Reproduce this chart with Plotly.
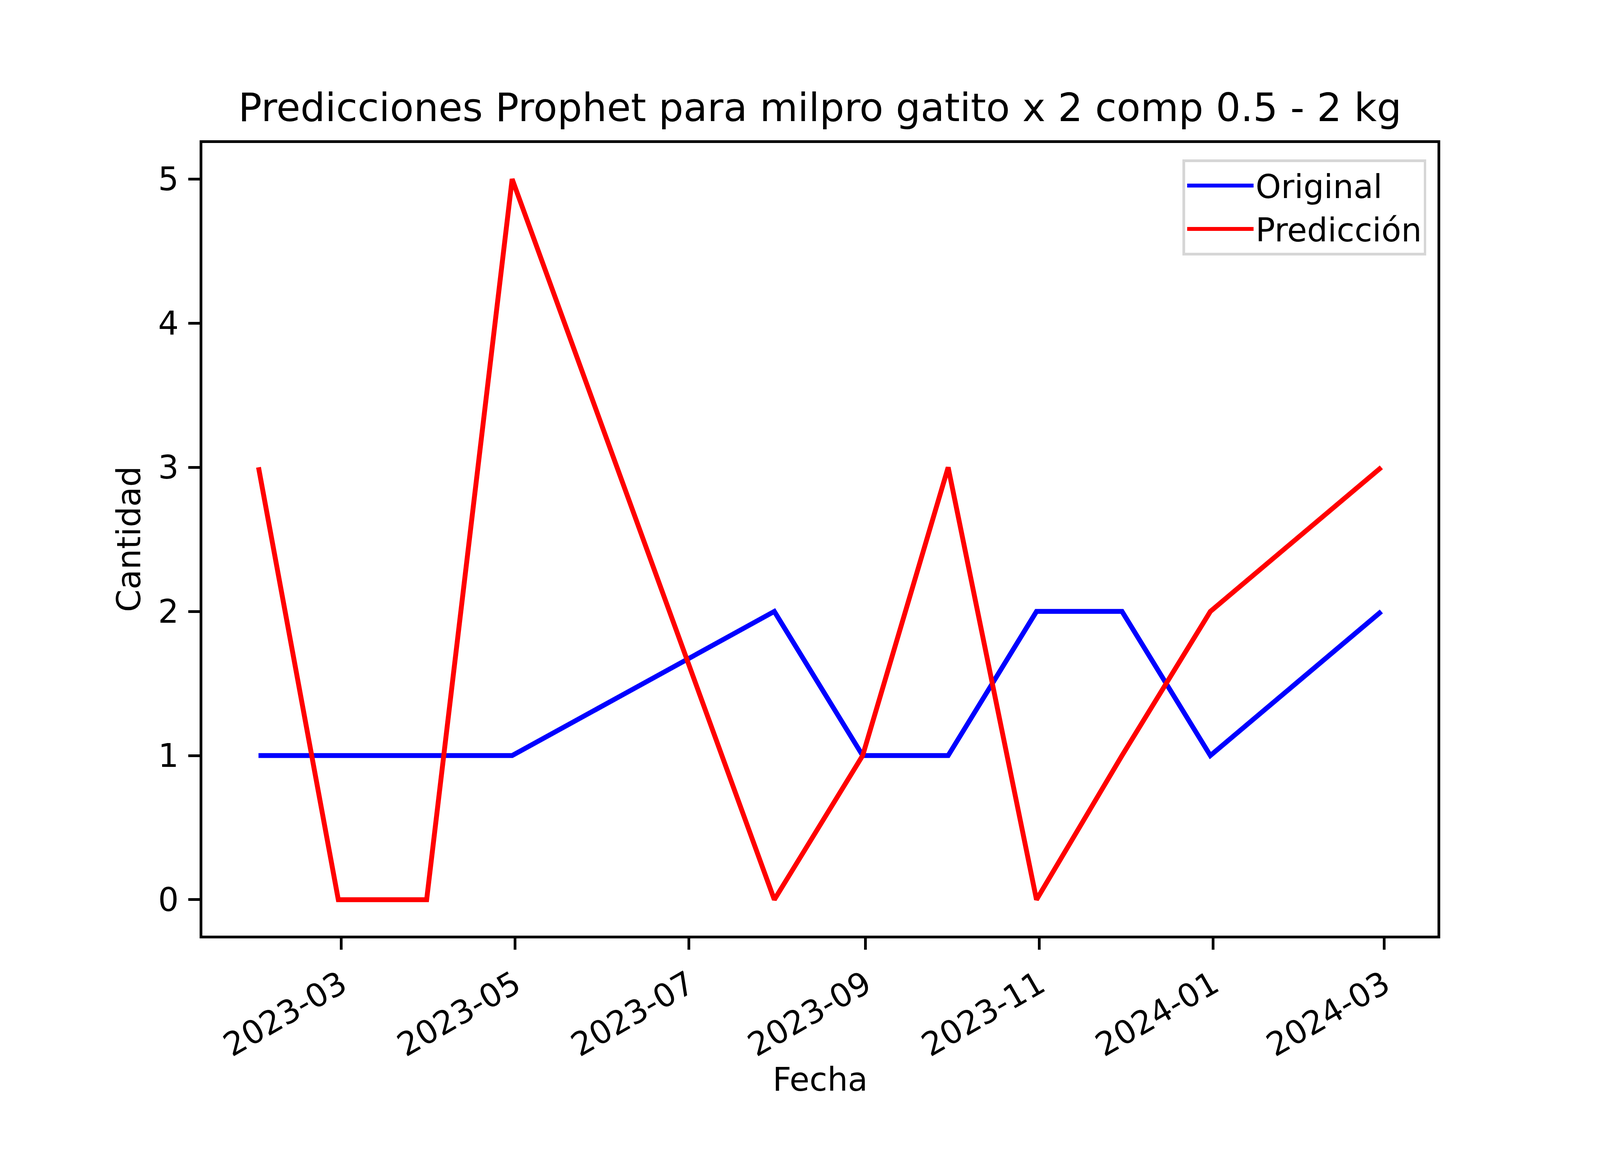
import plotly.graph_objects as go

fechas = ["2023-01-31", "2023-02-28", "2023-03-31", "2023-04-30", "2023-07-31",
          "2023-08-31", "2023-09-30", "2023-10-31", "2023-11-30", "2023-12-31",
          "2024-02-29"]
original = [1, 1, 1, 1, 2, 1, 1, 2, 2, 1, 2]
prediccion = [3, 0, 0, 5, 0, 1, 3, 0, 1, 2, 3]
x_ticks = ["2023-03-01", "2023-05-01", "2023-07-01", "2023-09-01",
           "2023-11-01", "2024-01-01", "2024-03-01"]
x_tick_labels = ["2023-03", "2023-05", "2023-07", "2023-09",
                 "2023-11", "2024-01", "2024-03"]
y_ticks = [0, 1, 2, 3, 4, 5]

FONT = "DejaVu Sans"
TICK = 83
LW = 12.5
AXW = 6.7

fig = go.Figure()
fig.add_trace(go.Scatter(x=fechas, y=original, mode="lines", name="Original",
                         line=dict(color="#0000ff", width=LW)))
fig.add_trace(go.Scatter(x=fechas, y=prediccion, mode="lines", name="Predicción",
                         line=dict(color="#ff0000", width=LW)))

axis_common = dict(showline=True, linecolor="black", linewidth=AXW, mirror=True,
                   ticks="outside", ticklen=29, tickwidth=AXW, tickcolor="black",
                   showgrid=False, zeroline=False, automargin=False,
                   tickfont=dict(family=FONT, size=TICK, color="black"))

fig.update_layout(
    autosize=True,
    margin=dict(l=0, r=0, t=0, b=0),
    paper_bgcolor="white", plot_bgcolor="white",
    font=dict(family=FONT, size=TICK, color="black"),
    title=dict(text="Predicciones Prophet para milpro gatito x 2 comp 0.5 - 2 kg",
               x=0.5125, xref="container", xanchor="center",
               y=1 - 268 / 3000, yref="container", yanchor="middle",
               font=dict(family=FONT, size=100, color="black")),
    xaxis=dict(axis_common, type="date", domain=[0.125, 0.9],
               range=["2023-01-11 07:00", "2024-03-19 17:00"],
               tickvals=x_ticks, ticktext=x_tick_labels, tickangle=-30,
               ticklabelstandoff=8),
    yaxis=dict(axis_common, domain=[0.2, 0.88], range=[-0.25, 5.25],
               tickvals=y_ticks, ticktext=[str(v) for v in y_ticks],
               ticklabelstandoff=8),
    showlegend=True,
    legend=dict(x=0.893, y=0.866, xanchor="right", yanchor="top",
                bgcolor="rgba(255,255,255,0.8)", bordercolor="#d6d6d6",
                borderwidth=6.7, font=dict(family=FONT, size=TICK, color="black"),
                itemwidth=170, tracegroupgap=0),
    annotations=[
        dict(text="Fecha", xref="paper", yref="paper", x=0.5125, y=1 - 2770 / 3000,
             xanchor="center", yanchor="middle", showarrow=False,
             font=dict(family=FONT, size=TICK, color="black")),
        dict(text="Cantidad", xref="paper", yref="paper", x=0.125, xshift=-187,
             y=0.54, xanchor="center", yanchor="middle", showarrow=False,
             textangle=-90, font=dict(family=FONT, size=TICK, color="black")),
    ],
)

fig.write_html("out.html", default_width="100%", default_height="100%",
               config={"responsive": True})
